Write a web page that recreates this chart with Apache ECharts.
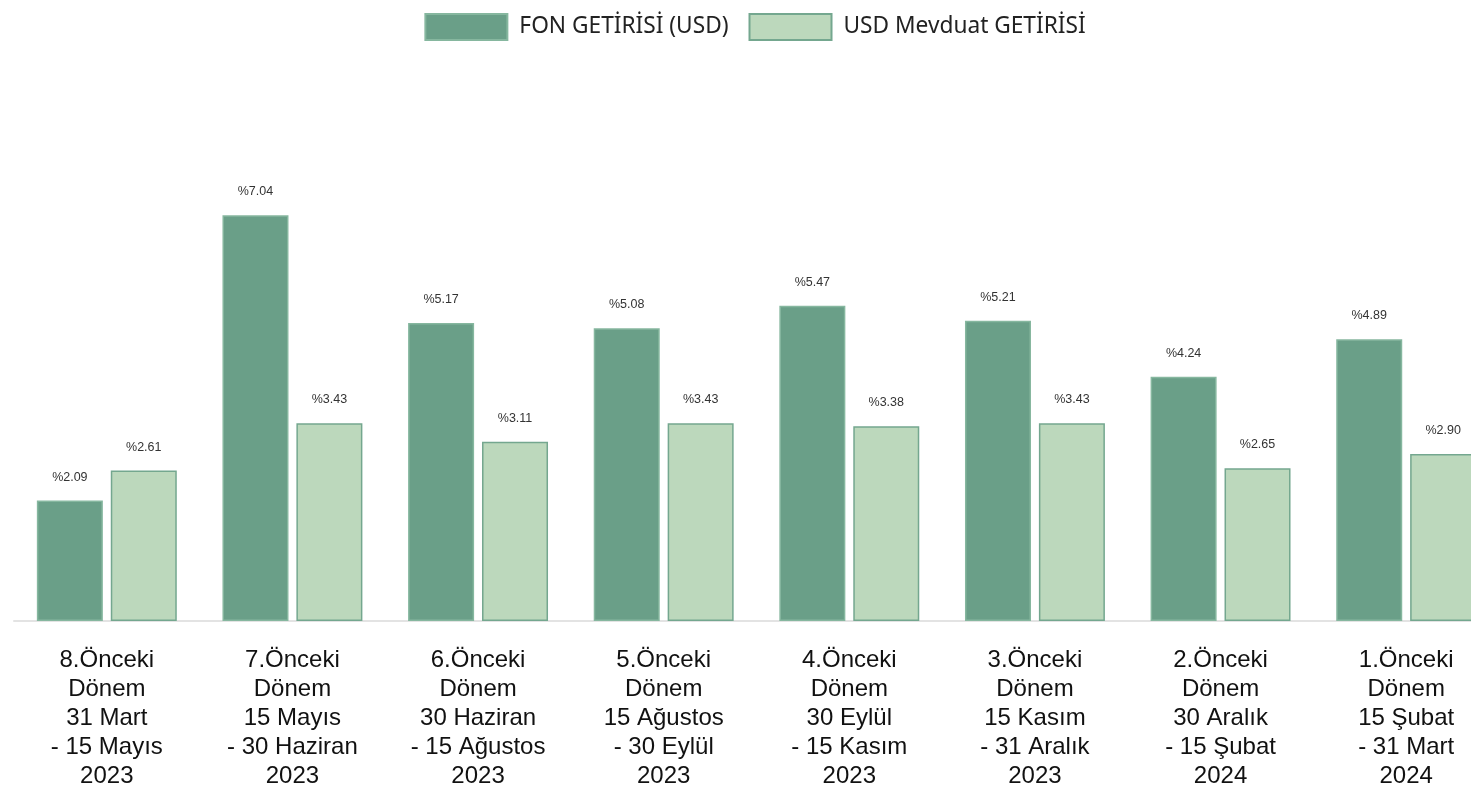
<!DOCTYPE html>
<html><head><meta charset="utf-8">
<script src="https://cdn.jsdelivr.net/npm/echarts@6/dist/echarts.min.js"></script>
<style>html,body{margin:0;padding:0;background:#fff;overflow:hidden}#c{width:1510px;height:789px}</style>
</head><body><div id="c"></div>
<script>
const categories = [
  "8.Önceki\nDönem\n31 Mart\n- 15 Mayıs\n2023",
  "7.Önceki\nDönem\n15 Mayıs\n- 30 Haziran\n2023",
  "6.Önceki\nDönem\n30 Haziran\n- 15 Ağustos\n2023",
  "5.Önceki\nDönem\n15 Ağustos\n- 30 Eylül\n2023",
  "4.Önceki\nDönem\n30 Eylül\n- 15 Kasım\n2023",
  "3.Önceki\nDönem\n15 Kasım\n- 31 Aralık\n2023",
  "2.Önceki\nDönem\n30 Aralık\n- 15 Şubat\n2024",
  "1.Önceki\nDönem\n15 Şubat\n- 31 Mart\n2024"
];
const fonValues = [2.09, 7.04, 5.17, 5.08, 5.47, 5.21, 4.24, 4.89];
const usdValues = [2.61, 3.43, 3.11, 3.43, 3.38, 3.43, 2.65, 2.90];
const seriesNames = ["FON GETİRİSİ (USD)", "USD Mevduat GETİRİSİ"];

const chart = echarts.init(document.getElementById('c'));
const labelCfg = {
  show: true, position: 'top', distance: 17,
  fontFamily: 'Liberation Sans', fontSize: 12.5, color: '#333',
  formatter: p => '%' + p.value.toFixed(2)
};
chart.setOption({
  animation: false,
  legend: {
    top: 8, left: 'center', icon: 'rect',
    itemWidth: 82, itemHeight: 26, itemGap: 20,
    textStyle: { fontFamily: 'Noto Sans', fontSize: 22.7, color: '#222', padding: [0,0,0,7] },
    data: seriesNames
  },
  grid: { left: 14, right: 11, top: 160, bottom: 168, containLabel: false, outerBoundsMode: 'none' },
  xAxis: {
    type: 'category', data: categories,
    axisTick: { show: false },
    axisLine: { lineStyle: { color: '#e3e3e3', width: 2 } },
    axisLabel: { interval: 0, margin: 25, fontFamily: 'Liberation Sans', fontSize: 24, lineHeight: 29, color: '#111' }
  },
  yAxis: { type: 'value', min: 0, max: 8, show: false, splitLine: { show: false } },
  series: [
    { name: seriesNames[0], type: 'bar', data: fonValues, barWidth: 66, barGap: '12%',
      itemStyle: { color: '#6a9f88', borderColor: '#86b79f', borderWidth: 1.5 }, label: labelCfg },
    { name: seriesNames[1], type: 'bar', data: usdValues, barWidth: 66,
      itemStyle: { color: '#bcd8bc', borderColor: '#74a78f', borderWidth: 1.5 }, label: labelCfg }
  ]
});
</script></body></html>
